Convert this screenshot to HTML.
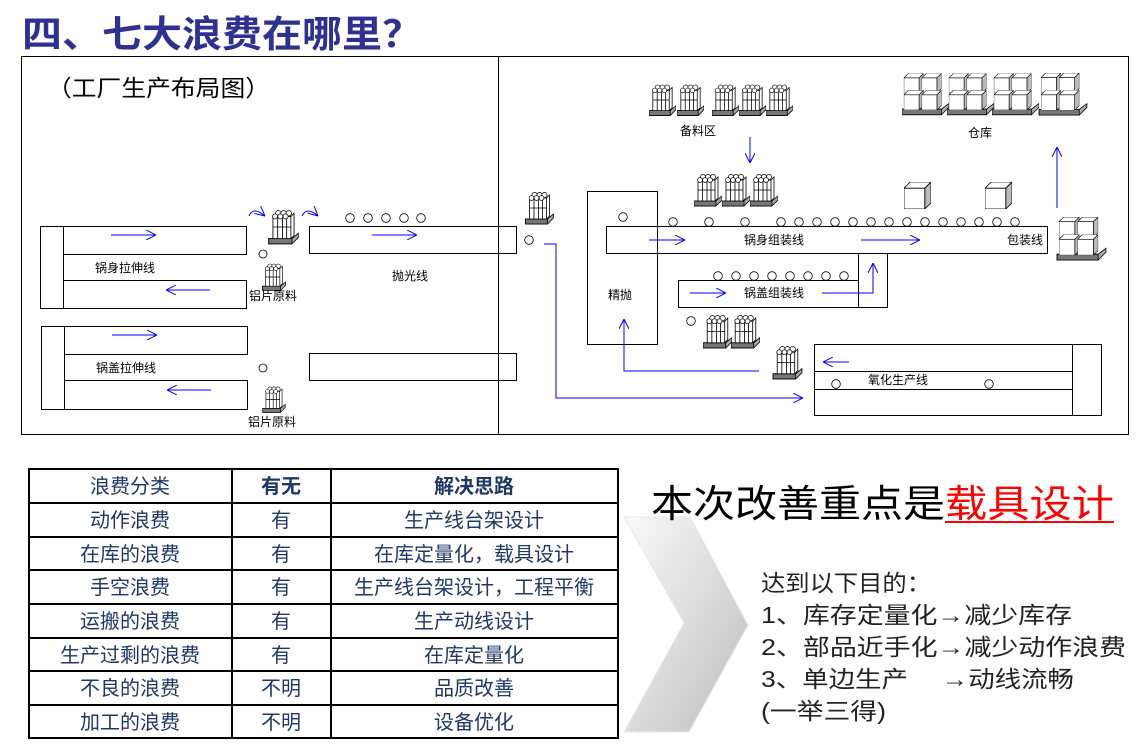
<!DOCTYPE html>
<html><head><meta charset="utf-8"><style>
html,body{margin:0;padding:0;background:#fff;}
svg{display:block;}
text{font-family:"Liberation Sans","Noto Sans CJK SC",sans-serif;}
</style></head><body>
<svg width="1136" height="745" viewBox="0 0 1136 745" xmlns="http://www.w3.org/2000/svg">
<defs>
<symbol id="p" viewBox="0 0 28 36" width="28" height="36">
<polygon points="0,29 22,29 28,24 28,28 22,34 0,34" fill="#aaa" stroke="#000" stroke-width="0.8"/>
<rect x="0" y="29" width="22" height="5" fill="#777" stroke="#000" stroke-width="0.8"/>
<circle cx="9" cy="5" r="2.6" fill="#fff" stroke="#000" stroke-width="0.7"/>
<circle cx="14" cy="5" r="2.6" fill="#fff" stroke="#000" stroke-width="0.7"/>
<circle cx="19" cy="5" r="2.6" fill="#fff" stroke="#000" stroke-width="0.7"/>
<rect x="4" y="8" width="17" height="21" fill="#fff" stroke="#000" stroke-width="0.8"/>
<path d="M8.5 8V29M13 8V29M17 8V29M4 18H21M21 8l3-3V26l-3 3" fill="none" stroke="#000" stroke-width="0.8"/>
<circle cx="6" cy="8" r="2.4" fill="#fff" stroke="#000" stroke-width="0.7"/>
<circle cx="11" cy="8" r="2.4" fill="#fff" stroke="#000" stroke-width="0.7"/>
<circle cx="16" cy="8" r="2.4" fill="#fff" stroke="#000" stroke-width="0.7"/>
</symbol>
<symbol id="b" viewBox="0 0 26 26" width="26" height="26">
<polygon points="0,6 6,0 26,0 20,6" fill="#fff" stroke="#000" stroke-width="0.8"/>
<polygon points="20,6 26,0 26,20 20,26" fill="#bbb" stroke="#000" stroke-width="0.8"/>
<rect x="0" y="6" width="20" height="20" fill="#fff" stroke="#000" stroke-width="0.8"/>
</symbol>
<symbol id="w" viewBox="0 0 50 46" width="50" height="46">
<polygon points="0,38 42,38 50,32 50,36 42,44 0,44" fill="#aaa" stroke="#000" stroke-width="0.8"/>
<rect x="0" y="38" width="42" height="6" fill="#777" stroke="#000" stroke-width="0.8"/>
<use href="#b" x="2" y="0" width="21" height="21"/>
<use href="#b" x="21" y="0" width="21" height="21"/>
<use href="#b" x="2" y="18" width="21" height="21"/>
<use href="#b" x="21" y="18" width="21" height="21"/>
</symbol>
<marker id="ar" viewBox="0 0 10 10" refX="10" refY="5" markerWidth="10" markerHeight="10" markerUnits="userSpaceOnUse" orient="auto"><path d="M0 0L10 5L0 10" fill="none" stroke="#00f" stroke-width="1"/></marker>
<linearGradient id="cg" x1="0" y1="0" x2="1" y2="1"><stop offset="0" stop-color="#fafafa"/><stop offset="0.6" stop-color="#d6d6d6"/><stop offset="1" stop-color="#bbb"/></linearGradient>
</defs>

<text x="22" y="47" font-size="37" font-weight="bold" fill="#2e3192" textLength="400" lengthAdjust="spacingAndGlyphs">四、七大浪费在哪里？</text>

<rect x="21.5" y="56.5" width="1107" height="378" fill="none" stroke="#000"/>
<line x1="498.5" y1="56" x2="498.5" y2="434" stroke="#000"/>
<text x="47" y="96" font-size="23" fill="#000" textLength="223" lengthAdjust="spacingAndGlyphs">（工厂生产布局图）</text>

<g fill="none" stroke="#000" stroke-width="1">
<rect x="40.5" y="226.5" width="23" height="82"/>
<rect x="63.5" y="226.5" width="183" height="28"/>
<rect x="63.5" y="280.5" width="183" height="28"/>
<rect x="41.5" y="326.5" width="23" height="83"/>
<rect x="64.5" y="326.5" width="183" height="28"/>
<rect x="64.5" y="380.5" width="183" height="29"/>
<rect x="309.5" y="226.5" width="207" height="27"/>
<rect x="309.5" y="353.5" width="207" height="27"/>
<rect x="587.5" y="191.5" width="70" height="153"/>
<rect x="606.5" y="226.5" width="441" height="27"/>
<rect x="678.5" y="280.5" width="180" height="27"/>
<rect x="858.5" y="253.5" width="29" height="54"/>
<rect x="814.5" y="344.5" width="287" height="71"/>
<line x1="1072.5" y1="344" x2="1072.5" y2="415"/>
<line x1="814" y1="371.5" x2="1072" y2="371.5"/>
<line x1="814" y1="389.5" x2="1072" y2="389.5"/>
</g>

<g fill="#fff" stroke="#000" stroke-width="0.8">
<circle cx="263" cy="254" r="4"/><circle cx="263" cy="368" r="4"/>
<circle cx="350" cy="218" r="4.3"/><circle cx="368" cy="218" r="4.3"/><circle cx="386" cy="218" r="4.3"/><circle cx="404" cy="218" r="4.3"/><circle cx="421" cy="218" r="4.3"/>
<circle cx="529" cy="240" r="4.3"/><circle cx="623" cy="217" r="4.3"/>
<circle cx="673" cy="222" r="4.3"/><circle cx="709" cy="222" r="4.3"/><circle cx="745" cy="222" r="4.3"/>
<circle cx="781" cy="222" r="4.3"/><circle cx="799" cy="222" r="4.3"/><circle cx="817" cy="222" r="4.3"/><circle cx="835" cy="222" r="4.3"/><circle cx="853" cy="222" r="4.3"/><circle cx="871" cy="222" r="4.3"/><circle cx="889" cy="222" r="4.3"/><circle cx="907" cy="222" r="4.3"/><circle cx="925" cy="222" r="4.3"/><circle cx="943" cy="222" r="4.3"/><circle cx="961" cy="222" r="4.3"/><circle cx="979" cy="222" r="4.3"/><circle cx="997" cy="222" r="4.3"/><circle cx="1015" cy="222" r="4.3"/>
<circle cx="718" cy="276" r="4.3"/><circle cx="736" cy="276" r="4.3"/><circle cx="754" cy="276" r="4.3"/><circle cx="772" cy="276" r="4.3"/><circle cx="790" cy="276" r="4.3"/><circle cx="808" cy="276" r="4.3"/><circle cx="826" cy="276" r="4.3"/><circle cx="844" cy="276" r="4.3"/>
<circle cx="691" cy="321" r="4.3"/><circle cx="836" cy="384" r="4.3"/><circle cx="989" cy="384" r="4.3"/>
</g>

<g stroke="#00f" stroke-width="1" fill="none" marker-end="url(#ar)">
<line x1="111" y1="235" x2="156" y2="235"/>
<line x1="210" y1="290" x2="166" y2="290"/>
<line x1="112" y1="335" x2="157" y2="335"/>
<line x1="211" y1="390" x2="167" y2="390"/>
<line x1="372" y1="235" x2="417" y2="235"/>
<path d="M249 216 Q253 206 265 216"/>
<path d="M302 216 Q307 206 318 216"/>
<polyline points="544,244 556,244 556,398 803,398"/>
<line x1="649" y1="240" x2="685" y2="240"/>
<line x1="861" y1="240" x2="920" y2="240"/>
<line x1="690" y1="293" x2="726" y2="293"/>
<polyline points="822,293 873,293 873,263"/>
<polyline points="759,371 624,371 624,319"/>
<line x1="849" y1="362" x2="823" y2="362"/>
<line x1="750" y1="137" x2="750" y2="163"/>
<line x1="1057" y1="208" x2="1057" y2="147"/>
</g>

<use href="#p" x="266" y="208" width="35" height="38"/>
<use href="#p" x="258" y="262" width="32" height="30"/>
<use href="#p" x="258" y="385" width="32" height="29"/>
<use href="#p" x="522" y="190" width="35" height="36"/>
<use href="#p" x="649" y="82" width="27" height="36"/>
<use href="#p" x="677" y="82" width="27" height="36"/>
<use href="#p" x="712" y="82" width="27" height="36"/>
<use href="#p" x="739" y="82" width="27" height="36"/>
<use href="#p" x="766" y="82" width="27" height="36"/>
<use href="#p" x="694" y="172" width="28" height="36"/>
<use href="#p" x="722" y="172" width="28" height="36"/>
<use href="#p" x="750" y="172" width="28" height="36"/>
<use href="#p" x="703" y="313" width="29" height="37"/>
<use href="#p" x="731" y="313" width="29" height="37"/>
<use href="#p" x="770" y="344" width="35" height="37"/>
<use href="#b" x="904" y="182" width="27" height="27"/>
<use href="#b" x="985" y="182" width="27" height="27"/>
<use href="#w" x="902" y="73" width="47" height="44"/>
<use href="#w" x="947" y="73" width="47" height="44"/>
<use href="#w" x="992" y="73" width="47" height="44"/>
<use href="#w" x="1037" y="73" width="52" height="44"/>
<use href="#w" x="1055" y="217" width="53" height="45"/>

<g font-size="12" fill="#000" text-anchor="middle">
<text x="125" y="272">锅身拉伸线</text>
<text x="273" y="300">铝片原料</text>
<text x="126" y="372">锅盖拉伸线</text>
<text x="272" y="426">铝片原料</text>
<text x="410" y="280">抛光线</text>
<text x="698" y="135">备料区</text>
<text x="980" y="137">仓库</text>
<text x="774" y="244">锅身组装线</text>
<text x="1025" y="244">包装线</text>
<text x="620" y="299">精抛</text>
<text x="774" y="297">锅盖组装线</text>
<text x="898" y="384">氧化生产线</text>
</g>

<g stroke="#000" stroke-width="2" fill="none">
<rect x="29" y="469" width="589" height="269"/>
<line x1="232" y1="469" x2="232" y2="738"/>
<line x1="331" y1="469" x2="331" y2="738"/>
<line x1="29" y1="503" x2="618" y2="503"/>
<line x1="29" y1="537" x2="618" y2="537"/>
<line x1="29" y1="570" x2="618" y2="570"/>
<line x1="29" y1="604" x2="618" y2="604"/>
<line x1="29" y1="638" x2="618" y2="638"/>
<line x1="29" y1="671" x2="618" y2="671"/>
<line x1="29" y1="705" x2="618" y2="705"/>
</g>
<g font-size="20" fill="#1f3864" text-anchor="middle">
<text x="130" y="493">浪费分类</text><text x="281" y="493" font-weight="bold">有无</text><text x="474" y="493" font-weight="bold">解决思路</text>
<text x="130" y="527">动作浪费</text><text x="281" y="527">有</text><text x="474" y="527">生产线台架设计</text>
<text x="130" y="561">在库的浪费</text><text x="281" y="561">有</text><text x="474" y="561">在库定量化，载具设计</text>
<text x="130" y="594">手空浪费</text><text x="281" y="594">有</text><text x="474" y="594">生产线台架设计，工程平衡</text>
<text x="130" y="628">运搬的浪费</text><text x="281" y="628">有</text><text x="474" y="628">生产动线设计</text>
<text x="130" y="662">生产过剩的浪费</text><text x="281" y="662">有</text><text x="474" y="662">在库定量化</text>
<text x="130" y="695">不良的浪费</text><text x="281" y="695">不明</text><text x="474" y="695">品质改善</text>
<text x="130" y="729">加工的浪费</text><text x="281" y="729">不明</text><text x="474" y="729">设备优化</text>
</g>

<polygon points="624,517 690,517 748,625 689,732 624,732 684,623" fill="url(#cg)" stroke="#e8e8e8"/>

<text x="651" y="517" font-size="38" fill="#000" textLength="294" lengthAdjust="spacingAndGlyphs">本次改善重点是</text>
<text x="945" y="517" font-size="38" fill="#f00" textLength="169" lengthAdjust="spacingAndGlyphs">载具设计</text>
<line x1="945" y1="522" x2="1114" y2="522" stroke="#f00" stroke-width="2"/>

<g font-size="23" fill="#222" lengthAdjust="spacingAndGlyphs">
<text x="761" y="591" textLength="170" lengthAdjust="spacingAndGlyphs">达到以下目的：</text>
<text x="761" y="623" textLength="311" lengthAdjust="spacingAndGlyphs">1、库存定量化→减少库存</text>
<text x="761" y="655" textLength="365" lengthAdjust="spacingAndGlyphs">2、部品近手化→减少动作浪费</text>
<text x="761" y="687" textLength="313" lengthAdjust="spacingAndGlyphs">3、单边生产　 →动线流畅</text>
<text x="761" y="719" textLength="125" lengthAdjust="spacingAndGlyphs">(一举三得)</text>
</g>
</svg>
</body></html>
